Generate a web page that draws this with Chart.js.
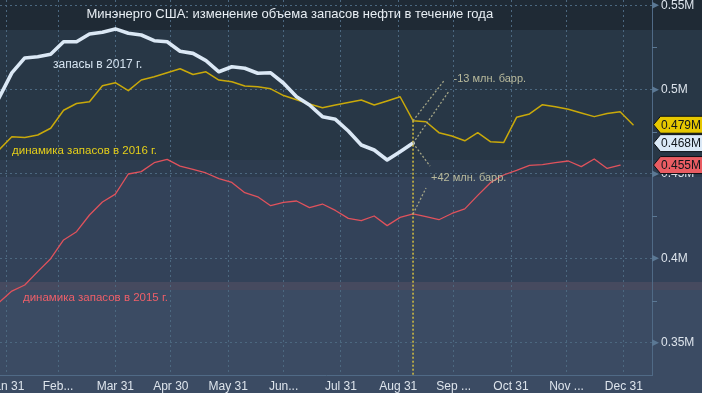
<!DOCTYPE html>
<html><head><meta charset="utf-8">
<script src="https://cdn.jsdelivr.net/npm/chart.js@4.4.0/dist/chart.umd.min.js"></script>
<style>html,body{margin:0;padding:0;background:#283746;overflow:hidden}#wrap{width:702px;height:393px;position:relative}canvas{display:block}</style>
</head><body><div id="wrap"><canvas id="c" width="702" height="393"></canvas></div>
<script>
// ---- DATA ----
// week-ending Fridays, expressed as day-of-year on the 2017 calendar
const weekDays = [27,34,41,48,55,62,69,76,83,90,97,104,111,118,125,132,139,146,153,160,167,174,181,188,195,202,209,216,223,230,237,244,251,258,265,272,279,286,293,300,307,314,321,328,335,342,349,356,363,370];
// crude stocks, millions (M) units as on the axis
const stocks2017 = [0.4950,0.5099,0.5188,0.5195,0.5210,0.5284,0.5284,0.5330,0.5340,0.5360,
  0.5334,0.5324,0.5290,0.5284,0.5228,0.5215,0.5172,0.5106,0.5136,0.5127,
  0.5097,0.5100,0.5038,0.4958,0.4909,0.4840,0.4824,0.4755,0.4672,0.4642,
  0.4583,0.4632,0.4683];
const stocks2016 = [0.4642,0.4721,0.4716,0.4731,0.4771,0.4878,0.4918,0.4928,0.5023,0.5041,
  0.4994,0.5057,0.5077,0.5100,0.5124,0.5090,0.5106,0.5057,0.5047,0.5022,
  0.5017,0.5005,0.4965,0.4940,0.4915,0.4893,0.4909,0.4924,0.4939,0.4909,
  0.4933,0.4958,0.4816,0.4810,0.4745,0.4725,0.4697,0.4745,0.4691,0.4686,
  0.4836,0.4856,0.4911,0.4899,0.4884,0.4862,0.4840,0.4859,0.4869,0.4792];
const stocks2015 = [0.3738,0.3806,0.3842,0.3921,0.3998,0.4109,0.4158,0.4257,0.4334,0.4381,
  0.4500,0.4514,0.4567,0.4587,0.4547,0.4528,0.4506,0.4473,0.4450,0.4389,
  0.4365,0.4312,0.4332,0.4340,0.4301,0.4322,0.4284,0.4237,0.4223,0.4251,
  0.4194,0.4243,0.4263,0.4247,0.4229,0.4266,0.4293,0.4373,0.4450,0.4494,
  0.4521,0.4551,0.4555,0.4567,0.4577,0.4544,0.4589,0.4533,0.4553];
const monthEndDays = [31,59,90,120,151,181,212,243,273,304,334,365];
const monthLabels = ['Jan 31','Feb...','Mar 31','Apr 30','May 31','Jun...','Jul 31','Aug 31','Sep ...','Oct 31','Nov ...','Dec 31'];
const yTickValues = [0.35,0.40,0.45,0.50,0.55];
const yMinorValues = [0.375,0.425,0.475,0.525];
const chartTitle = 'Минэнерго США: изменение объема запасов нефти в течение года';
const seriesNames = ['запасы в 2017 г.','динамика запасов в 2016 г.','динамика запасов в 2015 г.'];
const diffLabels = ['-13 млн. барр.','+42 млн. барр.'];
// series-name anchors (day, value)
const nameAnchorDays = [56.3, 34.1, 40.0];
const nameAnchorValues = [0.5130, 0.4617, 0.3750];

// ---- STYLE ----
const FONT = '"Liberation Sans", Arial, sans-serif';
const C17 = '#dbe8f5', C16 = '#c9a90a', C15 = '#e0525c';
const bands = [[0,30,'#1f2a35'],[30,160,'#283746'],[160,177,'#2d3c4f'],[177,282,'#334259'],[282,290,'#464a5f'],[290,393,'#3b4b63']];
const fmtTick = v => (+v.toFixed(2)).toString() + 'M';
const fmtTag = v => (Math.floor(v*1000+1e-6)/1000).toFixed(3) + 'M';

const deco = {
  id: 'deco',
  beforeDraw(chart) {
    const ctx = chart.ctx;
    bands.forEach(([a,b,c]) => { ctx.fillStyle = c; ctx.fillRect(0, a, chart.width, b - a); });
  },
  afterDatasetsDraw(chart) {
    const ctx = chart.ctx, xs = chart.scales.x, ys = chart.scales.y, ca = chart.chartArea;
    const i = stocks2017.length - 1;
    const px = xs.getPixelForValue(weekDays[i]);
    const p16 = ys.getPixelForValue(stocks2016[i]);
    const p17 = ys.getPixelForValue(stocks2017[i]);
    const p15 = ys.getPixelForValue(stocks2015[i]);
    ctx.save();
    ctx.setLineDash([2,2]);
    ctx.strokeStyle = '#d6c040'; ctx.lineWidth = 1.5;
    ctx.beginPath(); ctx.moveTo(px, p16); ctx.lineTo(px, ca.bottom); ctx.stroke();
    ctx.strokeStyle = '#a3a486'; ctx.lineWidth = 1.3;
    const seg = (x0,y0,dx,dy) => { ctx.beginPath(); ctx.moveTo(x0,y0); ctx.lineTo(x0+dx,y0+dy); ctx.stroke(); };
    seg(px, p16, 31, -40);
    seg(px, p17, 36, -52);
    seg(px, p17, 17, 23);
    seg(px, p15, 13, -26);
    ctx.setLineDash([]);
    ctx.font = '11px ' + FONT; ctx.textBaseline = 'alphabetic'; ctx.textAlign = 'left';
    ctx.fillStyle = '#b9ba9c';
    ctx.fillText(diffLabels[0], px + 40.5, p16 - 38.5);
    ctx.fillText(diffLabels[1], px + 18, p17 + 38);
    // series names
    const cols = ['#d5e3f0', '#e5cf1a', '#ee5f69'];
    const sizes = [12, 11.5, 11.5];
    seriesNames.forEach((t, k) => {
      ctx.font = sizes[k] + 'px ' + FONT;
      ctx.fillStyle = cols[k];
      ctx.fillText(t, xs.getPixelForValue(nameAnchorDays[k]), ys.getPixelForValue(nameAnchorValues[k]));
    });
    // title
    ctx.fillStyle = '#e8eef4'; ctx.font = '13px ' + FONT;
    ctx.fillText(chartTitle, 86.5, 17.5);
    ctx.restore();
  },
  afterDraw(chart) {
    const ctx = chart.ctx, ys = chart.scales.y, ca = chart.chartArea;
    const r = ca.right;
    ctx.save();
    ctx.fillStyle = '#5b7894'; ctx.strokeStyle = '#5b7894'; ctx.lineWidth = 1;
    yTickValues.forEach(v => {
      const y = ys.getPixelForValue(v);
      ctx.beginPath(); ctx.moveTo(r, y - 3.5); ctx.lineTo(r + 7, y); ctx.lineTo(r, y + 3.5); ctx.closePath(); ctx.fill();
    });
    yMinorValues.forEach(v => {
      const y = Math.round(ys.getPixelForValue(v)) + 0.5;
      ctx.beginPath(); ctx.moveTo(r, y); ctx.lineTo(r + 5, y); ctx.stroke();
    });
    // value tags
    const tags = [
      [stocks2016[stocks2016.length-1], '#e6c700'],
      [stocks2017[stocks2017.length-1], '#dbe9f7'],
      [stocks2015[stocks2015.length-1], '#e95c62']
    ];
    ctx.font = '12px ' + FONT; ctx.textBaseline = 'middle'; ctx.textAlign = 'left';
    tags.forEach(([v, col]) => {
      const cy = ys.getPixelForValue(v);
      const h = 8.5;
      ctx.beginPath();
      ctx.moveTo(r + 1.5, cy); ctx.lineTo(r + 8.5, cy - h); ctx.lineTo(chart.width + 2, cy - h);
      ctx.lineTo(chart.width + 2, cy + h); ctx.lineTo(r + 8.5, cy + h); ctx.closePath();
      ctx.fillStyle = col; ctx.fill();
      ctx.strokeStyle = '#0b0f14'; ctx.lineWidth = 1; ctx.stroke();
      ctx.fillStyle = '#10151b';
      ctx.fillText(fmtTag(v), r + 9, cy + 0.5);
    });
    ctx.restore();
  }
};

const pts = vals => vals.map((v, i) => ({ x: weekDays[i], y: v }));
const gridCommon = { color: '#4c6880', lineWidth: 1, drawTicks: false };
const borderCommon = { display: true, color: '#506a86', width: 1, dash: [2,3] };

new Chart(document.getElementById('c'), {
  type: 'line',
  data: {
    datasets: [
      { data: pts(stocks2017), borderColor: C17, borderWidth: 3.6 },
      { data: pts(stocks2016), borderColor: C16, borderWidth: 1.5 },
      { data: pts(stocks2015), borderColor: C15, borderWidth: 1.3 }
    ]
  },
  options: {
    responsive: false, animation: false, devicePixelRatio: 1,
    layout: { padding: 0 },
    plugins: { legend: { display: false }, tooltip: { enabled: false }, title: { display: false } },
    elements: { point: { radius: 0 }, line: { tension: 0, fill: false, borderJoinStyle: 'round', borderCapStyle: 'round' } },
    scales: {
      x: {
        type: 'linear', min: 27.6, max: 380.25,
        afterBuildTicks: s => { s.ticks = monthEndDays.map(v => ({ value: v })); },
        afterFit: s => { s.height = 18; s.paddingLeft = 0; s.paddingRight = 0; },
        ticks: { autoSkip: false, maxRotation: 0, minRotation: 0, color: '#dde4ec', font: { family: FONT, size: 12 }, padding: 4,
                 callback: (v, i) => monthLabels[i] },
        grid: gridCommon, border: borderCommon
      },
      y: {
        position: 'right', min: 0.33085, max: 0.55314,
        afterBuildTicks: s => { s.ticks = yTickValues.map(v => ({ value: v })); },
        afterFit: s => { s.width = 50; s.paddingTop = 0; s.paddingBottom = 0; },
        ticks: { color: '#dde4ec', font: { family: FONT, size: 12 }, padding: 9, callback: v => fmtTick(v) },
        grid: gridCommon, border: borderCommon
      }
    }
  },
  plugins: [deco]
});
</script></body></html>
